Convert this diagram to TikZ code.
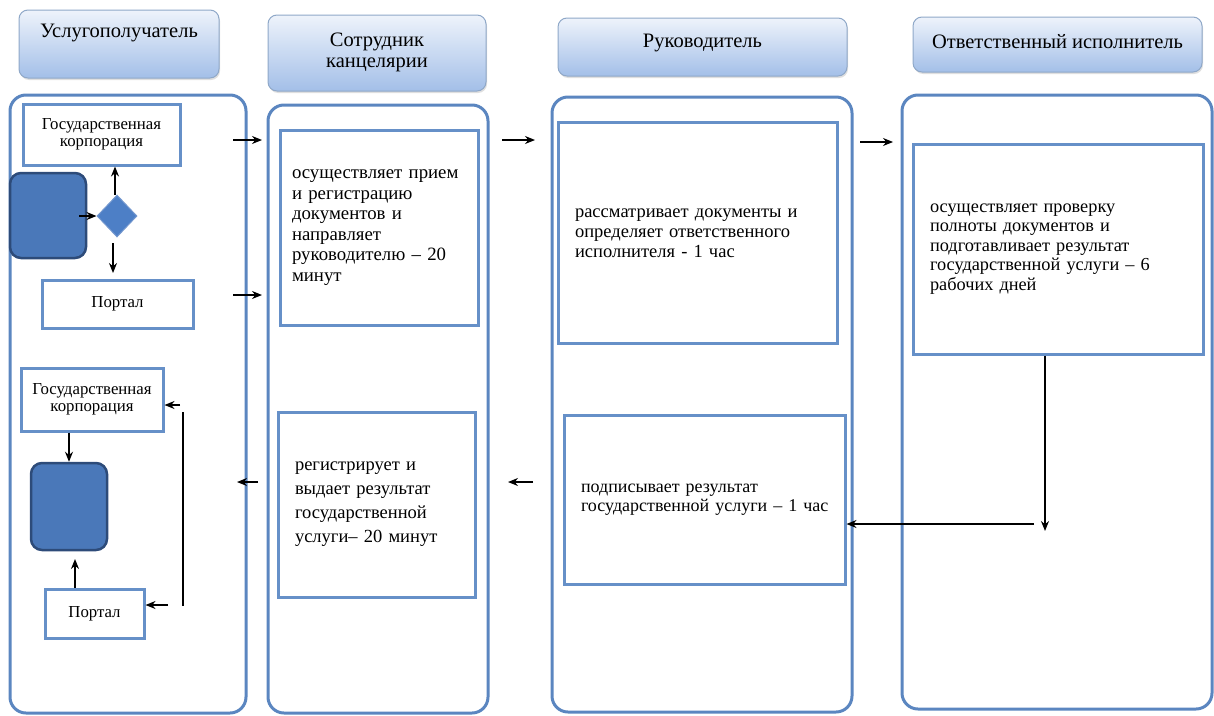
\documentclass[tikz,border=0pt]{standalone}
\usepackage{fontspec}
\setmainfont{Liberation Serif}
\usetikzlibrary{shapes.geometric,arrows.meta,shadows}
\definecolor{laneblue}{HTML}{5B86C0}
\definecolor{boxblue}{HTML}{6690C8}
\definecolor{hdrtop}{HTML}{EEF3FB}
\definecolor{hdrbot}{HTML}{A3BFE8}
\definecolor{hdrline}{HTML}{8FA8C8}
\definecolor{darkfill}{HTML}{4A78B9}
\definecolor{darkline}{HTML}{2D4B79}
\definecolor{diafill}{HTML}{4D7FC6}
\definecolor{dialine}{HTML}{7397CE}
\begin{document}
\begin{tikzpicture}[x=1pt,y=-1pt,
  header/.style={rounded corners=9pt, draw=hdrline, line width=1pt,
    top color=hdrtop, bottom color=hdrbot, inner sep=0pt,
    drop shadow={shadow xshift=1pt, shadow yshift=-2pt, opacity=0.25}},
  hdrtext/.style={font=\fontsize{20.5}{21}\selectfont, align=center, inner sep=0pt},
  lane/.style={rounded corners=16pt, draw=laneblue, line width=3pt, inner sep=0pt},
  stepbox/.style={draw=boxblue, line width=3pt, fill=white, inner sep=0pt},
  bodytext/.style={align=left, inner ysep=0pt},
  small/.style={font=\fontsize{16.8}{17}\selectfont, align=center},
  darkbox/.style={rounded corners=11pt, draw=darkline, line width=2.5pt, fill=darkfill, inner sep=0pt},
  arr/.style={-{Stealth[length=10pt,width=8pt]}, line width=1.3pt, black},
  plain/.style={line width=1.3pt, black}]
\useasboundingbox (0,0) rectangle (1214,715);

% headers
\node[header, minimum width=200pt, minimum height=68pt] (h1) at (119,44) {};
\node[header, minimum width=218pt, minimum height=76pt] (h2) at (377,53) {};
\node[header, minimum width=289pt, minimum height=58pt] (h3) at (702.5,47) {};
\node[header, minimum width=289pt, minimum height=55pt] (h4) at (1057.5,44.5) {};
\node[hdrtext] (h1t) at (119,33) {Услугополучатель};
\node[hdrtext] (h2t) at (377,52.5) {Сотрудник\\канцелярии};
\node[hdrtext] (h3t) at (702.5,43) {Руководитель};
\node[hdrtext] (h4t) at (1057.5,42) {Ответственный исполнитель};

% lanes
\node[lane, minimum width=236pt, minimum height=618pt] (l1) at (128,404) {};
\node[lane, minimum width=220pt, minimum height=608pt] (l2) at (378,409) {};
\node[lane, minimum width=300pt, minimum height=615pt] (l3) at (702,404.5) {};
\node[lane, minimum width=310pt, minimum height=614pt] (l4) at (1057,402) {};

% lane 1 contents
\node[stepbox, minimum width=157pt, minimum height=61pt, small] (g1) at (101.5,134.5) {Государственная\\корпорация};
\node[darkbox, minimum width=76pt, minimum height=85pt] (b1) at (48,215.5) {};
\node[diamond, fill=diafill, draw=dialine, line width=1pt, inner sep=0pt,
      minimum width=40pt, minimum height=42pt] (d) at (117,216) {};
\node[stepbox, minimum width=151pt, minimum height=48pt, small] (p1) at (117.5,304) {Портал};
\node[stepbox, minimum width=142pt, minimum height=63pt, small] (g2) at (92,399.5) {Государственная\\корпорация};
\node[darkbox, minimum width=76pt, minimum height=87pt] (b2) at (69,506.5) {};
\node[stepbox, minimum width=99pt, minimum height=49pt, small] (p2) at (94.5,613.5) {Портал};

% step boxes
\node[stepbox, bodytext, minimum height=195pt, inner xsep=12pt, text width=174pt,
      font=\fontsize{18.8}{20.5}\selectfont] (s1) at (379,227.5)
  {осуществляет прием\\и регистрацию\\документов и\\направляет\\руководителю – 20\\минут};
\node[stepbox, bodytext, minimum height=185pt, inner xsep=17pt, text width=163pt,
      font=\fontsize{18.5}{24}\selectfont] (s2) at (376.5,504.5)
  {регистрирует и\\выдает результат\\государственной\\услуги– 20 минут};
\node[stepbox, bodytext, minimum height=221pt, inner xsep=17pt, text width=245pt,
      font=\fontsize{18.5}{20}\selectfont] (r1) at (697.5,233)
  {рассматривает документы и\\определяет ответственного\\исполнителя - 1 час};
\node[stepbox, bodytext, minimum height=169pt, inner xsep=17pt, text width=247pt,
      font=\fontsize{18}{19}\selectfont] (r2) at (704.5,499.5)
  {\mbox{подписывает результат}\\\mbox{государственной услуги – 1 час}};
\node[stepbox, bodytext, minimum height=210pt, inner xsep=17pt, text width=256pt,
      font=\fontsize{18.3}{19.5}\selectfont] (e1) at (1058,249)
  {осуществляет проверку\\полноты документов и\\подготавливает результат\\государственной услуги – 6\\рабочих дней};

% free-end coordinates
\coordinate (a1s) at (233,140); \coordinate (a1e) at (262,140);
\coordinate (a2s) at (233,295); \coordinate (a2e) at (262,295);
\coordinate (a3s) at (502,140); \coordinate (a3e) at (535,140);
\coordinate (a4s) at (860,142); \coordinate (a4e) at (893,142);
\coordinate (a5e) at (1045,531);
\coordinate (a6s) at (1034,524);
\coordinate (a7s) at (533,482); \coordinate (a7e) at (508,482);
\coordinate (a8s) at (258,482); \coordinate (a8e) at (237,482);
\coordinate (a9s) at (79,216);
\coordinate (a11s) at (113,243); \coordinate (a11e) at (113,273);
\coordinate (a13e) at (75,559);
\coordinate (f1s) at (180,405); \coordinate (f2s) at (168,605);
\coordinate (ft) at (183,412); \coordinate (fb) at (183,606);

% connectors
\draw[arr] (a1s) -- (a1e);
\draw[arr] (a2s) -- (a2e);
\draw[arr] (a3s) -- (a3e);
\draw[arr] (a4s) -- (a4e);
\draw[arr] (e1.south -| a5e) -- (a5e);
\draw[arr] (a6s) -- (a6s -| r2.east);
\draw[arr] (a7s) -- (a7e);
\draw[arr] (a8s) -- (a8e);
\draw[arr] (a9s) -- (d.west);
\draw[arr] (d.north -| 115,0) -- (g1.south -| 115,0);
\draw[arr] (a11s) -- (a11e);
\draw[arr] (g2.south -| b2.north) -- (b2.north);
\draw[arr] (p2.north -| a13e) -- (a13e);
\draw[plain] (ft) -- (fb);
\draw[arr] (f1s) -- (f1s -| g2.east);
\draw[arr] (f2s) -- (f2s -| p2.east);
\end{tikzpicture}
\end{document}
